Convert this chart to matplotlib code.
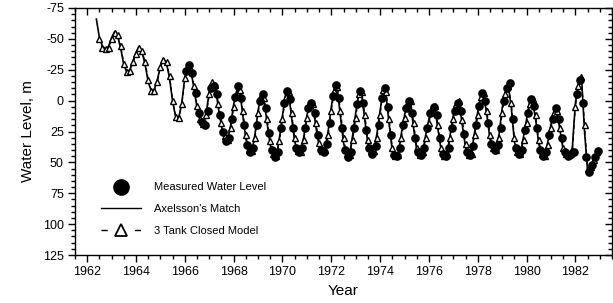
import numpy as np
import matplotlib
matplotlib.use("Agg")
import matplotlib.pyplot as plt
from matplotlib.lines import Line2D
from matplotlib.ticker import MultipleLocator, FixedLocator

plt.rcParams['font.family'] = ['Liberation Sans', 'DejaVu Sans']

# ---------------- data ----------------
step = 0.125  # sampling interval (years)

model_start = 1962.5
model_level = [
    -50, -43, -42, -43,                       # 1962.5 - 1962.875
    -50, -55, -53, -44, -30, -23, -24, -31,   # 1963
    -38, -43, -40, -31, -17, -8, -8, -15,     # 1964
    -27, -33, -31, -20, 0, 13, 14, 3,         # 1965
    -18, -27, -25, -12, 4, 15, 19, 12,        # 1966
    -5, -15, -13, 3, 18, 29, 32, 22,          # 1967
    5, -6, -9, 8, 28, 40, 41, 30,             # 1968
    10, -4, -2, 15, 33, 43, 45, 33,           # 1969
    15, -3, -7, 10, 30, 41, 42, 32,           # 1970
    14, 2, 3, 18, 34, 41, 40, 28,             # 1971
    8, -8, -11, 8, 30, 43, 44, 32,            # 1972
    14, -5, -7, 12, 32, 41, 41, 30,           # 1973
    12, -9, -7, 15, 38, 45, 44, 30,           # 1974
    14, 1, 0, 18, 38, 44, 42, 30,             # 1975
    18, 6, 4, 20, 38, 45, 43, 30,             # 1976
    15, 3, 0, 16, 35, 44, 43, 28,             # 1977
    12, -3, -6, 8, 28, 38, 40, 30,            # 1978
    10, -5, -12, 2, 30, 42, 43, 32,           # 1979
    18, 3, -1, 12, 32, 43, 45, 36,            # 1980
    22, 10, 8, 22, 38, 43, 44, 40,            # 1981
    5, -12, -19, 20, 55, 54, 48, 42,          # 1982
]

axelsson_start = 1962.375
axelsson_level = [
    -66, -51, -44, -42, -44,                  # 1962.375 - 1962.875
    -51, -56, -52, -42, -29, -23, -25, -32,   # 1963
    -39, -44, -39, -29, -15, -8, -9, -17,     # 1964
    -28, -34, -30, -18, 1, 13, 14, 2,         # 1965
    -19, -28, -24, -10, 6, 16, 19, 10,        # 1966
    -7, -15, -11, 6, 21, 31, 32, 20,          # 1967
    3, -8, -8, 12, 31, 41, 41, 27,            # 1968
    8, -5, 0, 19, 36, 45, 45, 30,             # 1969
    12, -5, -6, 14, 33, 42, 41, 29,           # 1970
    12, 2, 5, 22, 37, 42, 39, 24,             # 1971
    5, -10, -9, 13, 34, 45, 43, 28,           # 1972
    10, -6, -4, 16, 35, 42, 40, 26,           # 1973
    8, -9, -3, 20, 41, 46, 42, 26,            # 1974
    12, 0, 3, 23, 40, 44, 41, 27,             # 1975
    15, 5, 7, 24, 40, 45, 42, 27,             # 1976
    12, 2, 3, 21, 38, 44, 41, 25,             # 1977
    9, -5, -4, 12, 31, 39, 39, 27,            # 1978
    6, -7, -12, 6, 33, 43, 42, 29,            # 1979
    15, 1, 1, 16, 35, 44, 44, 33,             # 1980
    19, 8, 10, 25, 40, 44, 44, 38,            # 1981
    2, -14, -19, 25, 57, 54, 47, 41,          # 1982
]

measured_start = 1966.0625
measured_level = [
    -24, -29, -22, -6, 10, 17, 20, 8,         # 1966
    -10, -12, -5, 12, 25, 33, 30, 15,         # 1967
    -3, -12, -2, 20, 36, 42, 38, 20,          # 1968
    0, -5, 6, 26, 40, 46, 42, 22,             # 1969
    2, -8, -1, 22, 38, 42, 38, 22,            # 1970
    6, 2, 10, 28, 40, 42, 35, 18,             # 1971
    -4, -13, -2, 22, 40, 46, 42, 22,          # 1972
    3, -8, 2, 24, 38, 43, 37, 20,             # 1973
    -2, -10, 5, 28, 44, 45, 38, 20,           # 1974
    6, 0, 10, 30, 42, 44, 38, 22,             # 1975
    10, 5, 12, 30, 43, 45, 38, 22,            # 1976
    8, 2, 8, 27, 42, 44, 37, 20,              # 1977
    4, -6, 0, 18, 35, 40, 36, 22,             # 1978
    0, -10, -14, 15, 38, 43, 40, 24,          # 1979
    10, -1, 4, 22, 40, 45, 42, 28,            # 1980
    15, 6, 15, 30, 42, 45, 43, 42,            # 1981
    -5, -17, 2, 46, 58, 52, 46, 41,           # 1982
]

x_tick_labels = ["1962", "1964", "1966", "1968", "1970", "1972",
                 "1974", "1976", "1978", "1980", "1982"]
y_tick_labels = ["-75", "-50", "-25", "0", "25", "50", "75", "100", "125"]

legend_labels = ["Measured Water Level", "Axelsson's Match", "3 Tank Closed Model"]

# time axes for the regularly sampled series
model_t = model_start + step * np.arange(len(model_level))
axel_t = axelsson_start + step * np.arange(len(axelsson_level))
meas_t = measured_start + step * np.arange(len(measured_level))

# ---------------- figure ----------------
fig = plt.figure(figsize=(6.13, 3.03), dpi=100)
ax = fig.add_axes([75 / 613, 1 - 255 / 303, 537 / 613, 247 / 303])

ax.plot(axel_t, axelsson_level, color='black', lw=1.2, zorder=2)
ax.plot(model_t, model_level, color='black', lw=0.9, ls=(0, (3, 2)),
        marker='^', ms=4.3, mfc='white', mec='black', mew=1.0, zorder=3)
ax.plot(meas_t, measured_level, ls='none', marker='o', ms=5.2,
        mfc='black', mec='black', zorder=4)

ax.set_xlim(1961.5, 1983.5)
ax.set_ylim(125, -75)

ax.xaxis.set_major_locator(FixedLocator([int(s) for s in x_tick_labels]))
ax.set_xticklabels(x_tick_labels)
ax.xaxis.set_minor_locator(MultipleLocator(0.5))
ax.yaxis.set_major_locator(FixedLocator([int(s) for s in y_tick_labels]))
ax.set_yticklabels(y_tick_labels)
ax.yaxis.set_minor_locator(MultipleLocator(5))

ax.tick_params(which='both', direction='out', top=True, right=True,
               labelsize=9, width=1.0, color='black')
ax.tick_params(which='major', length=5, pad=3)
ax.tick_params(which='minor', length=3)
# top/right ticks point inward
for t in ax.xaxis.get_major_ticks() + ax.xaxis.get_minor_ticks():
    t.tick2line.set_marker(3)
for t in ax.yaxis.get_major_ticks() + ax.yaxis.get_minor_ticks():
    t.tick2line.set_marker(0)

for s in ax.spines.values():
    s.set_linewidth(1.0)

ax.set_xlabel("Year", fontsize=11, labelpad=4)
ax.set_ylabel("Water Level, m", fontsize=11, labelpad=6)

handles = [
    Line2D([], [], ls='none', marker='o', ms=11, mfc='black', mec='black'),
    Line2D([], [], color='black', lw=1.0),
    Line2D([], [], color='black', lw=1.0, ls=(0, (4.5, 19.5)),
           marker='^', ms=9, mfc='white', mec='black', mew=1.3),
]
leg = ax.legend(handles, legend_labels, loc='lower left',
                bbox_to_anchor=(0.04, 0.06), frameon=False, fontsize=8,
                handlelength=3.6, handletextpad=1.2, labelspacing=1.05,
                numpoints=1, borderaxespad=0)

fig.savefig("out.png", dpi=100)
